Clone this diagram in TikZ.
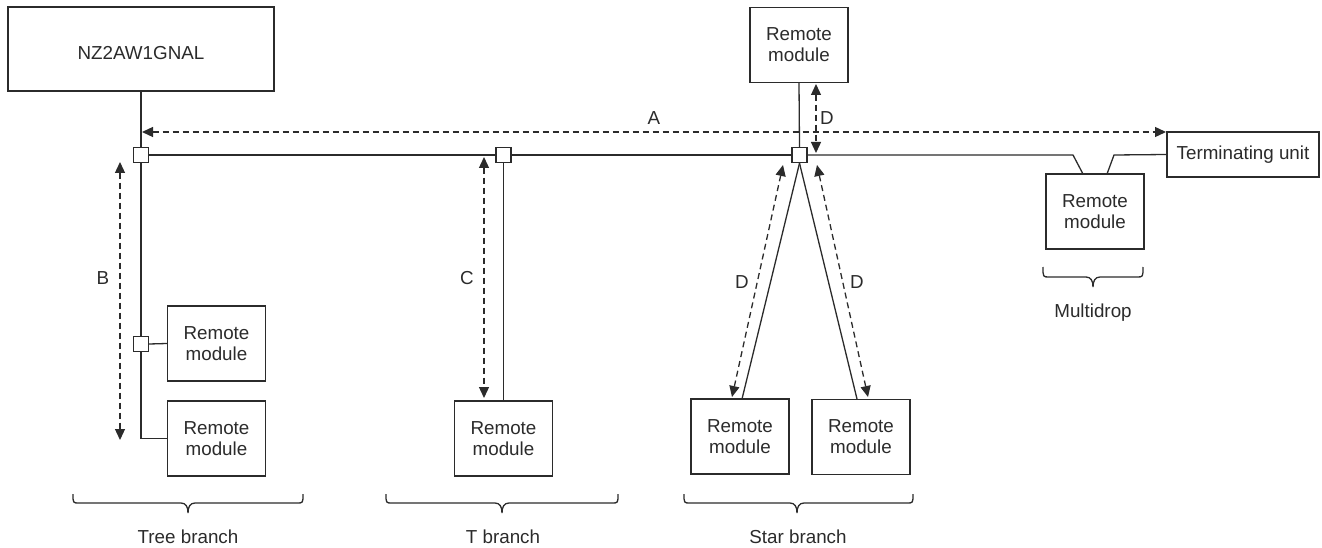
\documentclass[tikz,border=0pt]{standalone}
\usepackage{fontspec}
\setmainfont{Liberation Sans}
\usetikzlibrary{arrows.meta}
\definecolor{ink}{HTML}{2B2B2B}
\begin{document}
\begin{tikzpicture}[x=1pt,y=-1pt,
  every node/.style={text=ink},
  txt/.style={font=\fontsize{18.8}{21}\selectfont},
  box/.style={draw=ink,line width=1.3pt,fill=white,inner sep=0pt,align=center,
    font=\fontsize{18.8}{21}\selectfont,minimum width=98pt,minimum height=75pt},
  jn/.style={draw=ink,line width=1.3pt,fill=white,inner sep=0pt,minimum size=15pt},
  link/.style={draw=ink,line width=1.3pt},
  dimline/.style={draw=ink,line width=1.3pt,dash pattern=on 6pt off 4pt,
    {Triangle[length=11pt,width=10pt]}-{Triangle[length=11pt,width=10pt]}},
  bracepath/.style={draw=ink,line width=1.3pt}]
\useasboundingbox (0,0) rectangle (1322,548);

% boxes
\node[box,minimum width=266pt,minimum height=84pt] (nz) at (141,49) {\raisebox{-4pt}[\height][0pt]{NZ2AW1GNAL}};
\node[box] (tr1) at (216.5,343.5) {Remote\\module};
\node[box] (tr2) at (216.5,438.5) {Remote\\module};
\node[box] (tb) at (503.5,438.5) {Remote\\module};
\node[box] (top) at (799,45) {Remote\\module};
\node[box] (sl) at (740,436.5) {Remote\\module};
\node[box] (sr) at (861,437) {Remote\\module};
\node[box] (md) at (1095,211.5) {Remote\\module};
\node[box,minimum width=152pt,minimum height=45pt] (term) at (1243,154.5) {Terminating unit};

% junctions
\node[jn] (j1) at (141,155) {};
\node[jn] (j2) at (503.5,155) {};
\node[jn] (j3) at (799.5,155) {};
\node[jn] (j4) at (141,344) {};

% bend coordinates
\coordinate (b1) at (1073,155);
\coordinate (b2) at (1083,174);
\coordinate (b3) at (1107,174);
\coordinate (b4) at (1114,155);
\coordinate (tr2c) at (141,438.5);
\coordinate (slt) at (742,399);
\coordinate (srt) at (857,399);

% connectors
\draw[link] (nz.south) -- (j1.north);
\draw[link] (j1.east) -- (j2.west);
\draw[link] (j2.east) -- (j3.west);
\draw[link] (j3.east) -- (b1) -- (b2);
\draw[link] (b3) -- (b4) -- (term.west);
\draw[link] (j1.south) -- (j4.north);
\draw[link] (j4.east) -- (tr1.west);
\draw[link] (j4.south) -- (tr2c) -- (tr2.west);
\draw[link] (j2.south) -- (tb.north);
\draw[link] (top.south) -- (j3.north);
\draw[link] (j3.south) -- (slt);
\draw[link] (j3.south) -- (srt);

% dimension arrows
\coordinate (a1) at (142,132);
\coordinate (a2) at (1166,132);
\draw[dimline] (a1) -- (a2);
\node[txt] (la) at (654,118) {A};

\coordinate (bb1) at (120,162);
\coordinate (bb2) at (120,440);
\draw[dimline] (bb1) -- (bb2);
\node[txt] (lb) at (103,278) {B};

\coordinate (c1) at (484,157);
\coordinate (c2) at (484,398);
\draw[dimline] (c1) -- (c2);
\node[txt] (lc) at (467,278) {C};

\coordinate (d1) at (816,84);
\coordinate (d2) at (816,153);
\draw[dimline] (d1) -- (d2);
\node[txt] (ld1) at (827,118) {D};

\coordinate (d3) at (783,165);
\coordinate (d4) at (732,397);
\draw[dimline] (d3) -- (d4);
\node[txt] (ld2) at (742,282) {D};

\coordinate (d5) at (817,165);
\coordinate (d6) at (868,397);
\draw[dimline] (d5) -- (d6);
\node[txt] (ld3) at (857,282) {D};

% braces
\newcommand{\mybrace}[5]{% x1, x2, tip, ytop, ymid
  \draw[bracepath] (#1,#4) .. controls (#1,#5) .. (#1+6,#5) -- (#3-7,#5)
    .. controls (#3-2,#5) and (#3,#5+4) .. (#3,#5+10)
    .. controls (#3,#5+4) and (#3+2,#5) .. (#3+7,#5) -- (#2-6,#5)
    .. controls (#2,#5) .. (#2,#4);}
\mybrace{73}{303}{188}{494}{503}
\mybrace{386}{618}{502}{494}{503}
\mybrace{684}{913}{797}{494}{503}
\mybrace{1043}{1143}{1093}{267}{277}

\node[txt,anchor=base] (l1) at (188,543) {Tree branch};
\node[txt,anchor=base] (l2) at (503,543) {T branch};
\node[txt,anchor=base] (l3) at (798,543) {Star branch};
\node[txt,anchor=base] (l4) at (1093,317) {Multidrop};
\end{tikzpicture}
\end{document}
